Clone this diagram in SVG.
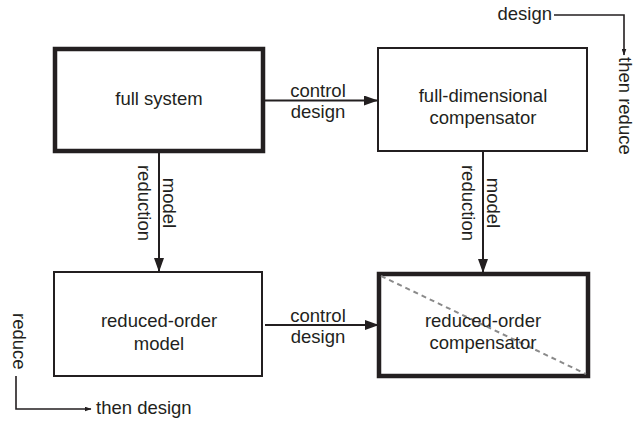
<svg xmlns="http://www.w3.org/2000/svg" width="644" height="423" viewBox="0 0 644 423">
  <defs>
    <style>
      text { font-family: "Liberation Sans", Arial, sans-serif; font-size: 18.5px; fill: #231f20; text-anchor: middle; }
      .box { fill: #ffffff; stroke: #231f20; }
      .thick { stroke-width: 4.5; }
      .thin { stroke-width: 2; }
      .wire { fill: none; stroke: #231f20; stroke-width: 2; }
      .note { fill: none; stroke: #231f20; stroke-width: 1.6; }
      .start { text-anchor: start; }
      .end { text-anchor: end; }
    </style>
    <marker id="head" viewBox="0 0 14 10" refX="13" refY="5" markerWidth="14" markerHeight="10" markerUnits="userSpaceOnUse" orient="auto">
      <path d="M0,0 L14,5 L0,10 Z" fill="#231f20"/>
    </marker>
    <marker id="headSmall" viewBox="0 0 7 5" refX="6.5" refY="2.5" markerWidth="7" markerHeight="5" markerUnits="userSpaceOnUse" orient="auto">
      <path d="M0,0 L7,2.5 L0,5 Z" fill="#231f20"/>
    </marker>
  </defs>

  <rect width="644" height="423" fill="#ffffff"/>

  <!-- connectors with their labels -->
  <g id="connectors">
    <line class="wire" x1="265" y1="100.5" x2="377" y2="100.5" marker-end="url(#head)"/>
    <line class="wire" x1="265" y1="325" x2="378" y2="325" marker-end="url(#head)"/>
    <line class="wire" x1="159" y1="151" x2="159" y2="271" marker-end="url(#head)"/>
    <line class="wire" x1="483" y1="150" x2="483" y2="272" marker-end="url(#head)"/>
    <text x="318" y="97">control</text>
    <text x="318" y="118">design</text>
    <text x="318" y="321.5">control</text>
    <text x="318" y="342.5">design</text>
    <text transform="translate(159,203) rotate(90)"><tspan x="0" y="-4">model</tspan><tspan x="0" y="21">reduction</tspan></text>
    <text transform="translate(483,203) rotate(90)"><tspan x="0" y="-4">model</tspan><tspan x="0" y="21">reduction</tspan></text>
  </g>

  <!-- nodes -->
  <g id="full-system">
    <rect class="box thick" x="55" y="49" width="208" height="102"/>
    <text x="159" y="105">full system</text>
  </g>
  <g id="full-compensator">
    <rect class="box thin" x="378" y="48" width="209" height="103"/>
    <text x="483" y="101.5">full-dimensional</text>
    <text x="483" y="124">compensator</text>
  </g>
  <g id="reduced-model">
    <rect class="box thin" x="54" y="272" width="208" height="104"/>
    <text x="159" y="327">reduced-order</text>
    <text x="159" y="349.5">model</text>
  </g>
  <g id="reduced-compensator">
    <rect class="box thick" x="379" y="274" width="209" height="102"/>
    <line x1="381" y1="276" x2="586" y2="374" stroke="#8a8a8a" stroke-width="2" stroke-dasharray="5 4"/>
    <text x="483" y="327">reduced-order</text>
    <text x="483" y="349">compensator</text>
  </g>

  <!-- route notes: design-then-reduce and reduce-then-design -->
  <g id="design-then-reduce">
    <text class="end" x="552" y="20">design</text>
    <polyline class="note" points="554,15 624,15 624,55" marker-end="url(#headSmall)"/>
    <text class="start" transform="translate(619,57) rotate(90)">then reduce</text>
  </g>
  <g id="reduce-then-design">
    <text class="start" transform="translate(12.5,313) rotate(90)">reduce</text>
    <polyline class="note" points="16,376 16,409 91,409" marker-end="url(#headSmall)"/>
    <text class="start" x="96" y="414">then design</text>
  </g>
</svg>
